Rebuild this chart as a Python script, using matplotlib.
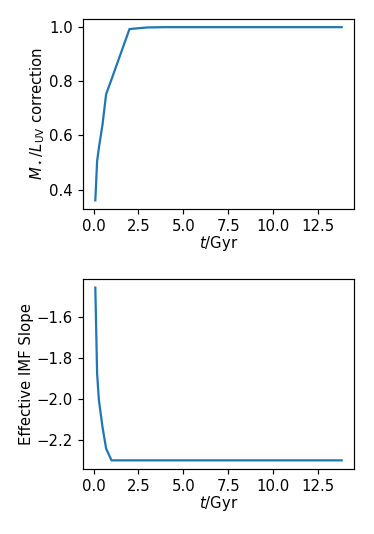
import numpy as np
import matplotlib
matplotlib.use('Agg')
import matplotlib.pyplot as plt
from matplotlib.ticker import MultipleLocator

# age of the population in Gyr
t_gyr = [0.1, 0.2, 0.3, 0.5, 0.7, 1.0, 2.0, 3.0, 4.0, 5.0, 6.0, 7.0, 8.0,
         9.0, 10.0, 11.0, 12.0, 13.0, 13.8]

# M*/L_UV correction factor
ml_corr = [0.36, 0.505, 0.555, 0.64, 0.752, 0.807, 0.993, 0.999, 1.0, 1.0,
           1.0, 1.0, 1.0, 1.0, 1.0, 1.0, 1.0, 1.0, 1.0]

# effective IMF slope
imf_slope = [-1.454, -1.876, -2.006, -2.137, -2.242, -2.3, -2.3, -2.3, -2.3,
             -2.3, -2.3, -2.3, -2.3, -2.3, -2.3, -2.3, -2.3, -2.3, -2.3]

dpi = 107
fig = plt.figure(figsize=(374 / dpi, 534 / dpi), dpi=dpi)

ax1 = fig.add_subplot(211)
ax1.plot(t_gyr, ml_corr)
ax1.set_xlabel(r'$t$/Gyr', labelpad=0)
ax1.set_ylabel(r'$M_\star/L_{\rm UV}$ correction', labelpad=1.5)

ax2 = fig.add_subplot(212)
ax2.plot(t_gyr, imf_slope)
ax2.set_xlabel(r'$t$/Gyr', labelpad=0)
ax2.set_ylabel('Effective IMF Slope', labelpad=1.5)

for ax in (ax1, ax2):
    ax.xaxis.set_major_locator(MultipleLocator(2.5))

ax1.set_position([83 / 374, 1 - 209 / 534, 271 / 374, 190.5 / 534])
ax2.set_position([83 / 374, 1 - 469 / 534, 271 / 374, 190 / 534])

fig.savefig('out.png', dpi=dpi)
